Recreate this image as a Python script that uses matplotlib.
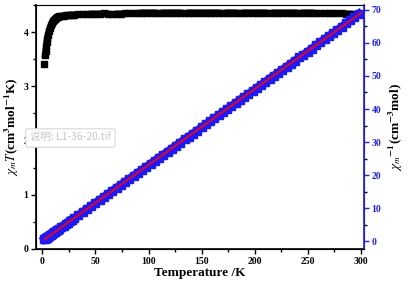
import matplotlib
matplotlib.use("Agg")
import matplotlib.pyplot as plt
import numpy as np
from matplotlib.ticker import MultipleLocator

plt.rcParams['font.family'] = ['Liberation Serif', 'DejaVu Serif']
plt.rcParams['mathtext.fontset'] = 'stix'

temperature = [2, 2.5, 3, 3.5, 4, 4.5, 5, 6, 7, 8, 9, 10, 11, 12, 13, 14, 15, 16, 18, 20,
               22, 24, 26, 28, 30, 34, 38, 42, 46, 50, 54, 58, 62, 66, 70, 74, 78, 82, 86,
               90, 94, 98, 102, 106, 110, 114, 118, 122, 126, 130, 134, 138, 142, 146, 150,
               154, 158, 162, 166, 170, 174, 178, 182, 186, 190, 194, 198, 202, 206, 210,
               214, 218, 222, 226, 230, 234, 238, 242, 246, 250, 254, 258, 262, 266, 270,
               274, 278, 282, 286, 290, 294, 298]
chiT = [3.42, 3.58, 3.66, 3.74, 3.82, 3.88, 3.94, 4.02, 4.08, 4.13, 4.17, 4.20, 4.22, 4.24,
        4.26, 4.27, 4.28, 4.29, 4.30, 4.30, 4.31, 4.31, 4.32, 4.32, 4.32, 4.33, 4.33, 4.33,
        4.34, 4.34, 4.34, 4.35, 4.34, 4.33, 4.34, 4.34, 4.35, 4.35, 4.35, 4.35, 4.36, 4.36,
        4.36, 4.36, 4.35, 4.36, 4.36, 4.36, 4.36, 4.36, 4.35, 4.36, 4.36, 4.36, 4.36, 4.36,
        4.36, 4.36, 4.36, 4.35, 4.36, 4.36, 4.36, 4.35, 4.36, 4.36, 4.36, 4.36, 4.36, 4.36,
        4.35, 4.36, 4.36, 4.36, 4.36, 4.36, 4.36, 4.35, 4.36, 4.36, 4.36, 4.35, 4.35, 4.35,
        4.35, 4.35, 4.35, 4.35, 4.34, 4.34, 4.33, 4.33]
fit_C = 4.35
fit_theta = -0.3
fit_range = [2, 300]

T = np.array(temperature)
chiT_arr = np.array(chiT)
inv_chi = T / chiT_arr

fig = plt.figure(figsize=(4.09, 2.88), dpi=100)
ax = fig.add_axes([36/409, 1-249/288, 328/409, 244/288])
ax2 = ax.twinx()

# first (isolated) point, then the dense band
ax.plot(T[:1], chiT_arr[:1], ls='none', marker='s', ms=4, color='black')
ax.plot(T[1:], chiT_arr[1:], ls='-', lw=4.5, marker='s', ms=5, color='black')
ax2.plot(T, inv_chi, ls='-', lw=6, marker='s', ms=6, color='#1a1aff', mec='#1a1aff')
fT = np.linspace(fit_range[0], fit_range[1], 50)
ax2.plot(fT, (fT - fit_theta) / fit_C, color='red', lw=1.4)

ax.set_xlim(-6, 303)
ax.set_ylim(0, 4.5)
ax2.set_ylim(-2.4, 71.5)

ax.xaxis.set_major_locator(MultipleLocator(50))
ax.xaxis.set_minor_locator(MultipleLocator(25))
ax.yaxis.set_major_locator(MultipleLocator(1))
ax.yaxis.set_minor_locator(MultipleLocator(0.5))
ax2.yaxis.set_major_locator(MultipleLocator(10))
ax2.yaxis.set_minor_locator(MultipleLocator(5))

for a in (ax, ax2):
    a.tick_params(which='both', direction='out', width=1)
    a.tick_params(which='major', length=3.5)
    a.tick_params(which='minor', length=2)
ax.tick_params(axis='both', labelsize=7, top=False, pad=2)
ax2.tick_params(axis='y', colors='#2020ff', labelsize=7, pad=2)
for lab in ax.get_xticklabels() + ax.get_yticklabels() + ax2.get_yticklabels():
    lab.set_fontweight('bold')
ax2.spines['right'].set_color('#2020ff')
ax2.spines['right'].set_linewidth(1.2)
ax.spines['left'].set_linewidth(1.2)
ax.spines['bottom'].set_linewidth(1.2)
ax.spines['top'].set_color('#555555')

ax.set_xlabel('Temperature /K', fontsize=9.5, fontweight='bold', labelpad=1)
ax.set_ylabel(r'$\chi_m T$(cm$^{\mathbf{3}}$mol$^{\mathbf{-1}}$K)', fontsize=9.5, fontweight='bold', labelpad=2)
ax2.set_ylabel(r'$\chi_m$$^{\mathbf{-1}}$(cm$^{\mathbf{-3}}$mol)', fontsize=9.5, fontweight='bold', labelpad=4)

fig.text(30/409, 1-138/288, '说明: L1-36-20.tif', fontsize=7.5, color='#c8c8c8',
         family=['Noto Sans CJK SC', 'DejaVu Sans'], va='center', ha='left',
         bbox=dict(boxstyle='round,pad=0.4,rounding_size=0.2', fc='white', ec='#d8d8d8', lw=0.8))

fig.savefig('out.png', dpi=100)
